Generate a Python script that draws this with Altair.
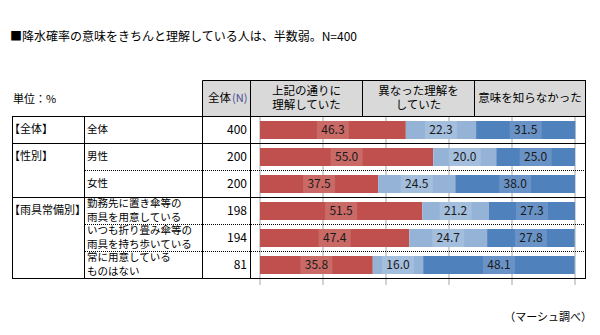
import altair as alt
import pandas as pd

FONT = "Noto Sans CJK JP"

# ---- data -------------------------------------------------------------
title_text = "■降水確率の意味をきちんと理解している人は、半数弱。N=400"
unit_text = "単位：%"
source_text = "（マーシュ調べ）"
n_header = ["全体", "(N)"]

series = ["上記の通りに理解していた", "異なった理解をしていた", "意味を知らなかった"]
series_header = ["上記の通りに\n理解していた", "異なった理解を\nしていた", "意味を知らなかった"]
colors = ["#c0504d", "#95b3d7", "#4f81bd"]

row_labels = [
    "全体",
    "男性",
    "女性",
    "勤務先に置き傘等の\n雨具を用意している",
    "いつも折り畳み傘等の\n雨具を持ち歩いている",
    "常に用意している\nものはない",
]
group_labels = ["【全体】", "【性別】", "", "【雨具常備別】", "", ""]
n_values = [400, 200, 200, 198, 194, 81]
understood = [46.3, 55.0, 37.5, 51.5, 47.4, 35.8]
misunderstood = [22.3, 20.0, 24.5, 21.2, 24.7, 16.0]
unknown = [31.5, 25.0, 38.0, 27.3, 27.8, 48.1]
tick_values = [0, 20, 40, 60, 80, 100]

# ---- tables built from the lists ------------------------------------
recs = []
for i, row in enumerate(row_labels):
    start = 0.0
    for s, vals in zip(series, [understood, misunderstood, unknown]):
        v = vals[i]
        recs.append({"row": row, "series": s, "start": start, "end": start + v,
                     "mid": start + v / 2, "label": f"{v:.1f}"})
        start += v
bars_df = pd.DataFrame(recs)

rows_df = pd.DataFrame({"row": row_labels, "group": group_labels, "n": n_values})
rows_df["multi"] = rows_df["row"].str.contains("\n")
groups_df = rows_df[rows_df["group"] != ""]
single_df = rows_df[~rows_df["multi"]]
multi_df = rows_df[rows_df["multi"]]
grid_df = pd.DataFrame({"v": tick_values})

# ---- layout (pixels) ------------------------------------------------
W, H = 600, 285
X_RANGE = [260, 575]
Y_RANGE = [116.5, 278.5]
LH = 14

xscale = alt.Scale(domain=[0, 100], range=X_RANGE, nice=False, zero=False)
yscale = alt.Scale(domain=row_labels, range=Y_RANGE, paddingInner=0.33, paddingOuter=0.165)

# table frame lines (decoration)
solid_lines = pd.DataFrame([
    # horizontal
    {"x": 12, "x2": 586, "y": 116.5, "y2": 116.5},
    {"x": 202.5, "x2": 586, "y": 80.5, "y2": 80.5},
    {"x": 12, "x2": 586, "y": 143.5, "y2": 143.5},
    {"x": 12, "x2": 586, "y": 197.5, "y2": 197.5},
    {"x": 12, "x2": 586, "y": 278.5, "y2": 278.5},
    # vertical
    {"x": 12.5, "x2": 12.5, "y": 116.5, "y2": 278.5},
    {"x": 84.5, "x2": 84.5, "y": 116.5, "y2": 278.5},
    {"x": 202.5, "x2": 202.5, "y": 80.5, "y2": 278.5},
    {"x": 250.5, "x2": 250.5, "y": 80.5, "y2": 278.5},
    {"x": 585.5, "x2": 585.5, "y": 80.5, "y2": 278.5},
    {"x": 362.5, "x2": 362.5, "y": 80.5, "y2": 116.5},
    {"x": 474.5, "x2": 474.5, "y": 80.5, "y2": 116.5},
])
dotted_lines = pd.DataFrame([
    {"x": 85, "x2": 586, "y": 170.5, "y2": 170.5},
    {"x": 85, "x2": 586, "y": 224.5, "y2": 224.5},
    {"x": 85, "x2": 586, "y": 251.5, "y2": 251.5},
])


def px_enc(df_chart):
    return df_chart.encode(
        x=alt.X("x:Q", scale=None), x2="x2:Q",
        y=alt.Y("y:Q", scale=None), y2="y2:Q",
    )


def static_text(txt, x, y, align="left", size=12, color="#000000"):
    n_lines = txt.count("\n") + 1
    return alt.Chart(pd.DataFrame({"t": [txt]})).mark_text(
        align=align, baseline="middle", font=FONT, fontSize=size, color=color,
        lineBreak="\n", lineHeight=LH, dy=-(n_lines - 1) * LH / 2,
    ).encode(x=alt.value(x), y=alt.value(y), text="t:N")


header_bg = alt.Chart(pd.DataFrame({"a": [0]})).mark_rect(color="#d9d9d9").encode(
    x=alt.value(202.5), x2=alt.value(585.5), y=alt.value(80.5), y2=alt.value(116.5)
)

grid = alt.Chart(grid_df).mark_rule(color="#a6a6a6", strokeWidth=1).encode(
    x=alt.X("v:Q", scale=xscale, title=None,
            axis=alt.Axis(values=tick_values, labelExpr="datum.value + '%'",
                          ticks=False, domain=False, grid=False, labelFlush=False,
                          labelFont=FONT, labelFontSize=11, labelColor="#222222",
                          labelPadding=1)),
    y=alt.value(117), y2=alt.value(285),
)

bars = alt.Chart(bars_df).mark_bar().encode(
    x=alt.X("start:Q", scale=xscale, axis=None),
    x2="end:Q",
    y=alt.Y("row:N", scale=yscale, axis=None),
    color=alt.Color("series:N", scale=alt.Scale(domain=series, range=colors), legend=None),
)

label_boxes = alt.Chart(bars_df).mark_tick(
    color="white", opacity=0.15, thickness=32, size=18
).encode(
    x=alt.X("mid:Q", scale=xscale, axis=None),
    y=alt.Y("row:N", scale=yscale, axis=None),
)

labels = alt.Chart(bars_df).mark_text(
    font=FONT, fontSize=12, color="#1a1a1a", baseline="middle", align="center"
).encode(
    x=alt.X("mid:Q", scale=xscale, axis=None),
    y=alt.Y("row:N", scale=yscale, axis=None),
    text="label:N",
)


def row_text_layer(df, dy):
    return alt.Chart(df).mark_text(
        font=FONT, fontSize=10.5, color="#000000", align="left", baseline="middle",
        lineBreak="\n", lineHeight=LH, dy=dy,
    ).encode(
        x=alt.value(87), y=alt.Y("row:N", scale=yscale, axis=None), text="row:N",
    )


row_text_single = row_text_layer(single_df, 0)
row_text_multi = row_text_layer(multi_df, -LH / 2)

n_text = alt.Chart(rows_df).mark_text(
    font=FONT, fontSize=12, color="#000000", align="right", baseline="middle",
).encode(
    x=alt.value(247), y=alt.Y("row:N", scale=yscale, axis=None), text="n:Q",
)

group_text = alt.Chart(groups_df).mark_text(
    font=FONT, fontSize=11, color="#000000", align="left", baseline="middle",
).encode(
    x=alt.value(9), y=alt.Y("row:N", scale=yscale, axis=None), text="group:N",
)

solid = px_enc(alt.Chart(solid_lines).mark_rule(color="#000000", strokeWidth=1))
dotted = px_enc(alt.Chart(dotted_lines).mark_rule(color="#000000", strokeWidth=1, strokeDash=[1, 1]))

texts = [
    static_text(title_text, 10, 37, size=12),
    static_text(unit_text, 13, 100, size=11),
    static_text(n_header[0], 231, 99, align="right", size=11.5),
    static_text(n_header[1], 232, 99, align="left", size=11, color="#4b4b96"),
    static_text(series_header[0], 306.5, 99, align="center", size=11.5),
    static_text(series_header[1], 418.5, 99, align="center", size=11.5),
    static_text(series_header[2], 530, 99, align="center", size=11.5),
    static_text(source_text, 592, 318, align="right", size=11),
]

chart = alt.layer(
    header_bg, grid, bars, label_boxes, labels, row_text_single, row_text_multi,
    n_text, group_text, solid, dotted, *texts,
).properties(
    width=W, height=H,
    autosize=alt.AutoSizeParams(type="none"),
    padding={"left": 0, "top": 0, "right": 0, "bottom": 50},
    background="white",
).configure_view(stroke=None)

chart.save("out.html", embed_options={"renderer": "svg", "actions": False})
